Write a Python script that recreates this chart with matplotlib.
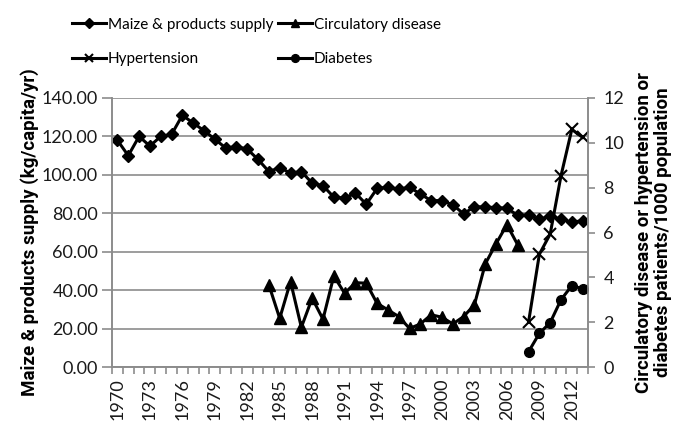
import numpy as np
import matplotlib
matplotlib.use('Agg')
import matplotlib.pyplot as plt

plt.rcParams['font.family'] = ['Lato', 'DejaVu Sans']

# Roky (kategorie osy x)
years = list(range(1970, 2014))

# Nabídka kukuřice a výrobků (kg/capita/yr), 1970-2013
maize = [118, 110, 120, 115, 120, 121, 131, 127, 123, 118.6, 114, 114.7, 113.4, 108,
         101.7, 103.8, 100.9, 101.7, 95.7, 94.4, 88.4, 87.9, 90.5, 84.7, 92.9, 93.6,
         92.5, 93.6, 90, 86.6, 86.6, 84.4, 79.7, 83.5, 83.2, 83, 82.6, 79, 79, 76.9,
         78.6, 77, 75.3, 76.2]

# Oběhová onemocnění od roku 1984 do 2007
circ_years = list(range(1984, 2008))
circulatory = [3.66, 2.17, 3.81, 1.77, 3.07, 2.13, 4.06, 3.29, 3.76, 3.74, 2.84, 2.55,
               2.25, 1.72, 1.92, 2.33, 2.22, 1.92, 2.25, 2.78, 4.6, 5.5, 6.35, 5.45]

# Hypertenze a diabetes 2008-2013
hd_years = list(range(2008, 2014))
hypertension = [2.0, 5.03, 5.93, 8.53, 10.6, 10.24]
diabetes = [0.68, 1.5, 1.98, 3.0, 3.63, 3.49]

year_labels = list(range(1970, 2013, 3))

def pos(yrs):
    return [y - 1970 for y in yrs]

fig = plt.figure(figsize=(6.81, 4.22), dpi=100)
ax = fig.add_axes([0.1645, 0.1303, 0.699, 0.6375])
ax2 = ax.twinx()

lw = 2.2
l1, = ax.plot(pos(years), maize, color='black', lw=lw, marker='D', ms=6)
l2, = ax2.plot(pos(circ_years), circulatory, color='black', lw=lw, marker='^', ms=8)
l3, = ax2.plot(pos(hd_years), hypertension, color='black', lw=lw, marker='x', ms=8, mew=1.5)
l4, = ax2.plot(pos(hd_years), diabetes, color='black', lw=lw, marker='o', ms=7)

tc = '#1a1a1a'
gc = '#8c8c8c'

ax.set_ylim(0, 140)
ax.set_yticks(np.arange(0, 141, 20))
ax.set_yticklabels([f'{v:.2f}' for v in np.arange(0, 141, 20)])
ax2.set_ylim(0, 12)
ax2.set_yticks(np.arange(0, 13, 2))

ax.set_xlim(-0.5, len(years) - 0.5)
ax.set_xticks(pos(year_labels))
ax.set_xticklabels([str(y) for y in year_labels], rotation=90)
ax.set_xticks(np.arange(-0.5, len(years), 1), minor=True)
ax.tick_params(axis='x', which='major', length=0, pad=8, labelsize=13, labelcolor=tc)
ax.tick_params(axis='x', which='minor', length=5, color=gc, width=1.2, direction='out')

ax.grid(True, axis='y', color=gc, lw=1.2)
ax.set_axisbelow(True)
for a in (ax, ax2):
    a.spines['top'].set_visible(False)
    for s in ['left', 'right', 'bottom']:
        a.spines[s].set_color(gc)
        a.spines[s].set_linewidth(1.2)
ax.tick_params(axis='y', color=gc, width=1.2, length=7, labelsize=13, labelcolor=tc, pad=3)
ax2.tick_params(axis='y', color=gc, width=1.2, length=5, labelsize=13, labelcolor=tc, pad=6)

lab_font = dict(family='Roboto', fontsize=13.5, fontweight='bold')
ax.set_ylabel('Maize & products supply (kg/capita/yr)', labelpad=2, **lab_font)
ax2.set_ylabel('Circulatory disease or hypertension or\ndiabetes patients/1000 population',
               labelpad=8, linespacing=1.05, **lab_font)

# Pořadí tak, aby řádky odpovídaly originálu
fig.legend([l1, l3, l2, l4],
           ['Maize & products supply', 'Hypertension', 'Circulatory disease', 'Diabetes'],
           ncol=2, loc='upper left', bbox_to_anchor=(0.1057, 0.958), frameon=False,
           fontsize=11, handlelength=2.2, handletextpad=0.15, columnspacing=0.3,
           labelspacing=1.35, markerscale=0.8, borderpad=0, borderaxespad=0)

plt.savefig('out.png', dpi=100)
